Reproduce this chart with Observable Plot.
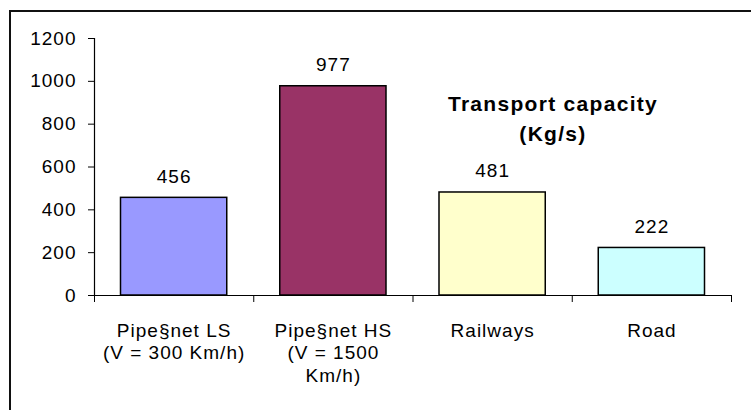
<!DOCTYPE html>
<html>
<head>
<meta charset="utf-8">
<script src="https://cdn.jsdelivr.net/npm/d3@7"></script>
<script src="https://cdn.jsdelivr.net/npm/@observablehq/plot@0.6"></script>
<style>
  html, body { margin: 0; padding: 0; background: #fff; }
  #wrap { position: relative; width: 751px; height: 410px; overflow: hidden; background: #fff;
          font-family: "Liberation Sans", Arial, sans-serif; }
  #border { position: absolute; left: 9px; top: 10px; width: 900px; height: 600px;
            border-left: 2px solid #111; border-top: 2px solid #111; }
  #chart { position: absolute; left: 0; top: 0; }
  #title { position: absolute; left: 403px; top: 89px; width: 300px; text-align: center;
           font-weight: bold; font-size: 21px; letter-spacing: 1.3px; line-height: 30px; color: #000; }
</style>
</head>
<body>
<div id="wrap">
  <div id="border"></div>
  <div id="chart"></div>
  <div id="title">Transport capacity<br>(Kg/s)</div>
</div>
<script>
const categories = ["Pipe§net LS", "Pipe§net HS", "Railways", "Road"];
const categoryLabels = ["Pipe§net LS\n(V = 300 Km/h)", "Pipe§net HS\n(V = 1500\nKm/h)", "Railways", "Road"];
const values = [456, 977, 481, 222];
const colors = ["#9999FF", "#993366", "#FFFFCC", "#CCFFFF"];
const yTicks = [0, 200, 400, 600, 800, 1000, 1200];

const data = categories.map((c, i) => ({i, category: c, label: categoryLabels[i], value: values[i], color: colors[i]}));
const boundaries = d3.range(categories.length + 1);
const centers = data.map(d => d.i + 0.5);
const FS = 19;

const chart = Plot.plot({
  width: 751,
  height: 410,
  marginLeft: 94,
  marginRight: 20,
  marginTop: 38,
  marginBottom: 115,
  style: {fontFamily: '"Liberation Sans", Arial, sans-serif', fontSize: "19px", letterSpacing: "1px", color: "#000", background: "transparent"},
  x: {type: "linear", domain: [0, categories.length]},
  y: {domain: [0, 1200]},
  marks: [
    Plot.rectY(data, {x1: d => d.i, x2: d => d.i + 1, y: "value", fill: "color", stroke: "#000", strokeWidth: 1.5, insetLeft: 26.5, insetRight: 26.5}),
    Plot.ruleY([0], {stroke: "#000", strokeWidth: 1.2}),
    Plot.ruleX([0], {y1: 0, y2: 1200, stroke: "#000", strokeWidth: 1.2}),
    Plot.axisY({ticks: yTicks, tickSize: 6, tickPadding: 12, tickFormat: d => String(d), label: null, stroke: "#000", strokeOpacity: 1, fill: "#000", fontSize: FS}),
    Plot.axisX({ticks: boundaries, tickSize: 7, tickFormat: () => "", label: null, stroke: "#000", strokeOpacity: 1}),
    Plot.axisX({ticks: centers, tickSize: 0, tickPadding: 25, tickFormat: t => categoryLabels[Math.floor(t)], label: null, lineHeight: 1.2, fill: "#000", fontSize: FS}),
    Plot.text(data, {x: d => d.i + 0.5, y: "value", text: d => String(d.value), lineAnchor: "bottom", dy: -15, fill: "#000", fontSize: FS})
  ]
});
document.getElementById("chart").appendChild(chart);
</script>
</body>
</html>
